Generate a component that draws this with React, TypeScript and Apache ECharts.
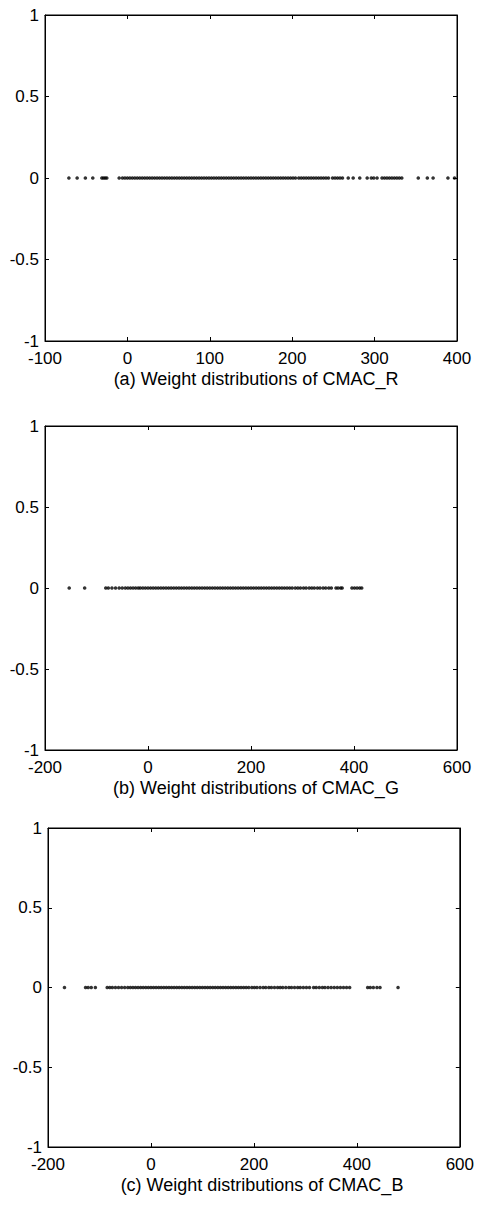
import React, { useEffect, useRef } from "react";
import * as echarts from "echarts";

// Weight values (x positions of dots on the y = 0 line)
const xR = [-71, -61, -51, -42, -31, -29, -27, -25, -10, -6, -3, 0, 3, 6, 9, 12, 15, 18, 21, 24, 27, 30, 33, 36, 39, 42, 45, 48, 51, 54, 57, 60, 63, 66, 69, 72, 75, 78, 81, 84, 87, 90, 93, 96, 99, 102, 105, 108, 111, 114, 117, 120, 123, 126, 129, 132, 135, 138, 141, 144, 147, 150, 153, 156, 159, 162, 165, 168, 171, 174, 177, 180, 183, 186, 189, 192, 195, 198, 201, 204, 208, 211, 214, 217, 220, 223, 226, 229, 232, 235, 238, 241, 244, 249, 252, 255, 258, 261, 268, 274, 282, 291, 296, 299, 303, 309, 312, 315, 318, 321, 324, 327, 330, 333, 353, 364, 371, 389, 397];

const xG = [-153, -123, -82, -77, -70, -63, -56, -50, -44, -39, -34, -29, -24, -19, -15, -10, -5, 0, 5, 10, 15, 20, 25, 30, 35, 40, 45, 50, 55, 60, 65, 70, 75, 80, 85, 90, 95, 100, 105, 110, 115, 120, 125, 130, 135, 140, 145, 150, 155, 160, 165, 170, 175, 180, 185, 190, 195, 200, 205, 210, 215, 220, 225, 230, 235, 240, 245, 250, 255, 260, 265, 270, 275, 280, 286, 291, 296, 302, 307, 313, 318, 323, 329, 334, 340, 345, 351, 356, 365, 369, 374, 377, 396, 401, 406, 411, 415];

const xB = [-168, -127, -122, -116, -108, -85, -80, -75, -69, -63, -57, -51, -45, -40, -35, -30, -25, -20, -15, -10, -5, 0, 5, 10, 15, 20, 25, 30, 35, 40, 45, 50, 55, 60, 65, 70, 75, 80, 85, 90, 95, 100, 105, 110, 115, 120, 125, 130, 135, 140, 145, 150, 155, 160, 165, 170, 175, 180, 185, 190, 196, 201, 206, 212, 218, 223, 229, 234, 240, 246, 251, 256, 262, 268, 273, 279, 285, 290, 296, 302, 308, 316, 321, 327, 333, 338, 344, 350, 356, 362, 368, 374, 380, 386, 421, 426, 432, 439, 445, 480];

const titles = [
  "(a) Weight distributions of CMAC_R",
  "(b) Weight distributions of CMAC_G",
  "(c) Weight distributions of CMAC_B",
];
const xRanges = [
  { min: -100, max: 400, interval: 100 },
  { min: -200, max: 600, interval: 200 },
  { min: -200, max: 600, interval: 200 },
];
const yRange = { min: -1, max: 1, interval: 0.5 };

export default function App() {
  const ref = useRef<HTMLDivElement>(null);
  useEffect(() => {
    if (!ref.current) return;
    const chart = echarts.init(ref.current, null, { renderer: "svg" });
    const font = "Liberation Sans";
    const grids = [
      { left: 45, top: 15, width: 412, height: 326 },
      { left: 45, top: 426, width: 412, height: 324 },
      { left: 48, top: 828, width: 412, height: 319 },
    ];
    const titleTops = [370, 779, 1176];
    const titleLefts = [256, 256, 262];
    const datasets = [xR, xG, xB];
    const xAxes: any[] = [];
    const yAxes: any[] = [];
    const series: any[] = [];
    grids.forEach((g, i) => {
      const base = {
        gridIndex: i,
        type: "value",
        splitLine: { show: false },
        axisLine: { show: true, onZero: false, lineStyle: { color: "#000", width: 1 } },
        axisTick: { show: true, inside: true, length: 4, lineStyle: { color: "#000" } },
      };
      xAxes.push({
        ...base,
        position: "bottom",
        ...xRanges[i],
        axisLabel: { color: "#000", fontFamily: font, fontSize: 17, margin: 9, lineHeight: 17 },
      });
      xAxes.push({
        ...base,
        position: "top",
        ...xRanges[i],
        axisLabel: { show: false },
      });
      yAxes.push({
        ...base,
        position: "left",
        ...yRange,
        axisLabel: { color: "#000", fontFamily: font, fontSize: 17, margin: 6, lineHeight: 17 },
      });
      yAxes.push({
        ...base,
        position: "right",
        ...yRange,
        axisLabel: { show: false },
      });
      series.push({
        type: "scatter",
        xAxisIndex: i * 2,
        yAxisIndex: i * 2,
        symbol: "circle",
        symbolSize: 3.6,
        itemStyle: { color: "#000" },
        data: datasets[i].map((x) => [x, 0]),
      });
    });
    chart.setOption({
      animation: false,
      backgroundColor: "#fff",
      grid: grids.map((g) => ({ ...g, show: true, borderColor: "#000", borderWidth: 1 })),
      title: titles.map((t, i) => ({
        text: t,
        left: titleLefts[i],
        top: titleTops[i],
        textAlign: "center",
        padding: 0,
        textStyle: { color: "#000", fontFamily: font, fontSize: 18, fontWeight: "normal", lineHeight: 18 },
      })),
      xAxis: xAxes,
      yAxis: yAxes,
      series,
    });
    return () => chart.dispose();
  }, []);
  return (
    <div
      ref={ref}
      style={{ position: "absolute", left: 0, top: 0, width: 477, height: 1205, background: "#fff" }}
    />
  );
}
